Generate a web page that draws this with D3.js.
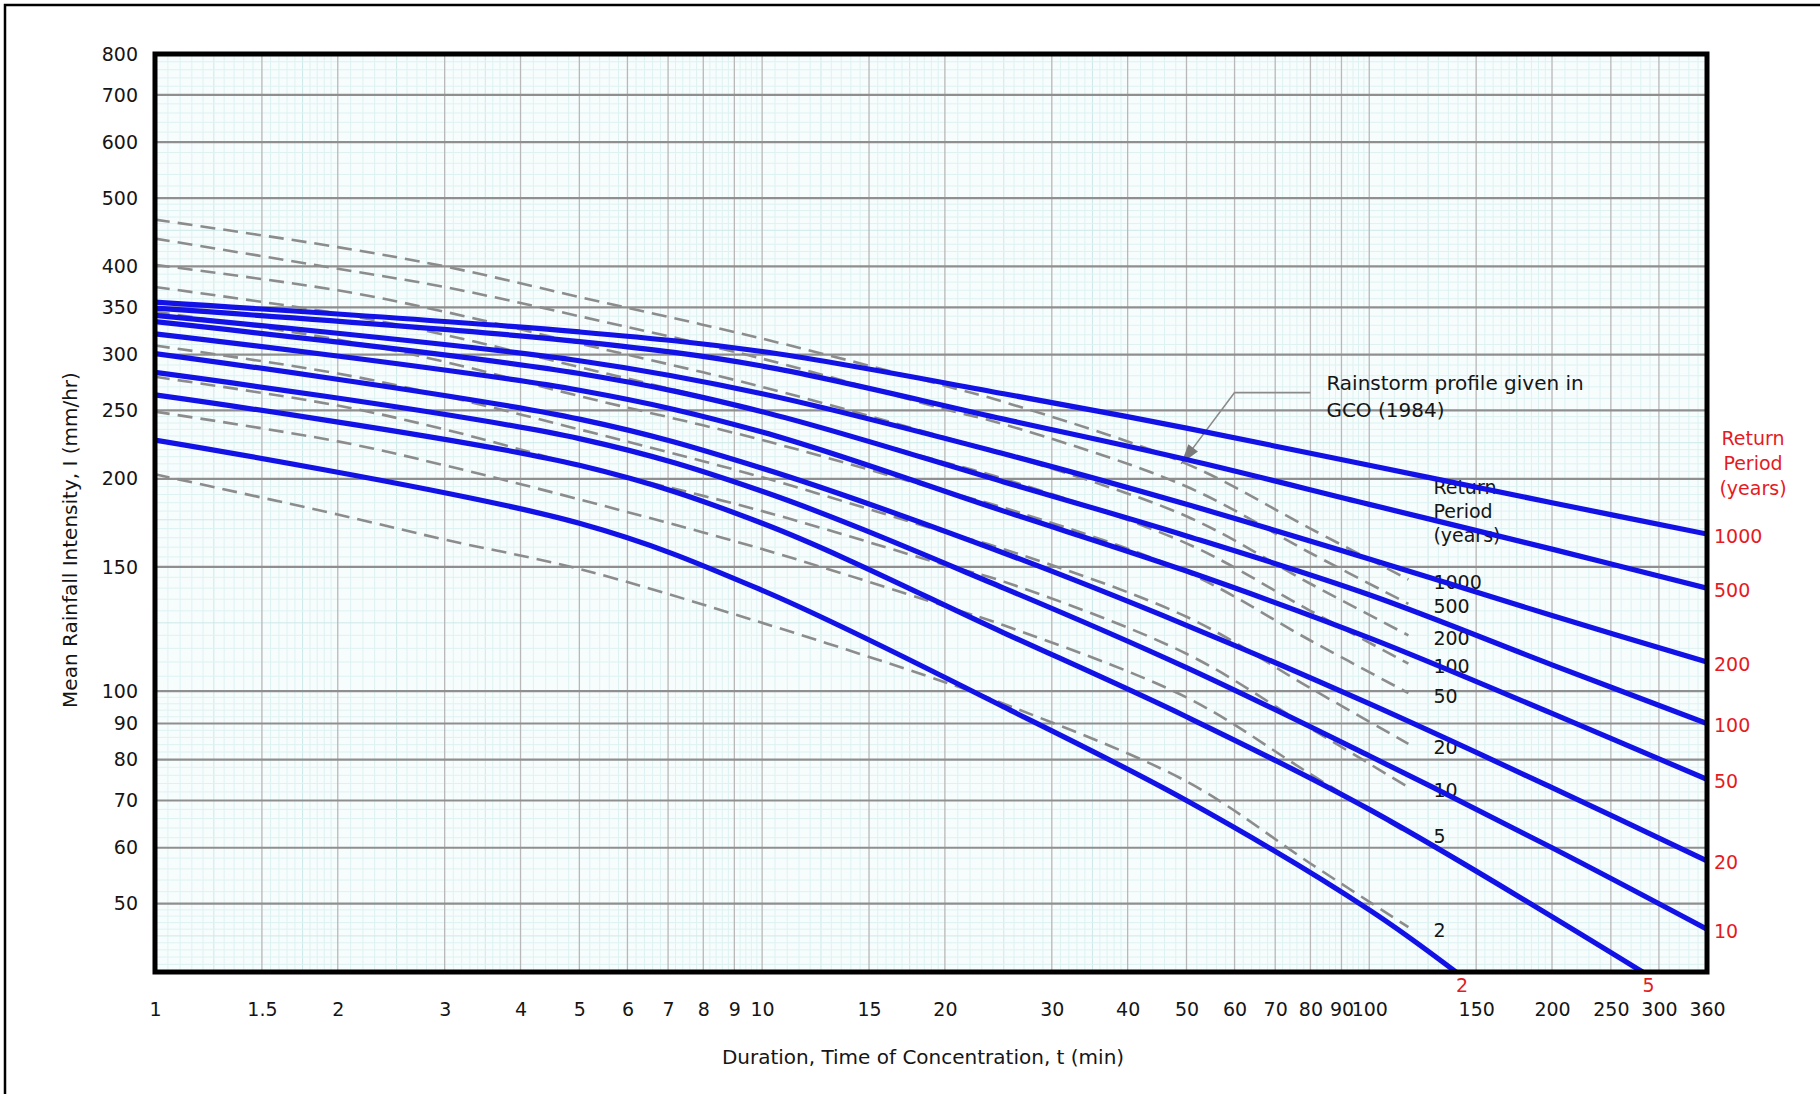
<!DOCTYPE html>
<html>
<head>
<meta charset="utf-8">
<script src="https://cdn.jsdelivr.net/npm/d3@7"></script>
<style>
  html, body { margin: 0; padding: 0; background: #ffffff; }
  svg { display: block; font-family: "DejaVu Sans", sans-serif; }
</style>
</head>
<body>
<svg id="chart" width="1820" height="1094"></svg>
<script>
// ---- Axis ticks ----
const xTicks = [1, 1.5, 2, 3, 4, 5, 6, 7, 8, 9, 10, 15, 20, 30, 40, 50, 60, 70, 80, 90, 100, 150, 200, 250, 300, 360];
const yTicks = [50, 60, 70, 80, 90, 100, 150, 200, 250, 300, 350, 400, 500, 600, 700, 800];

// ---- Current IDF curves: duration (min) -> mean intensity (mm/hr) ----
const returnPeriods = [1000, 500, 200, 100, 50, 20, 10, 5, 2];
const idfDurations  = [1, 5, 10, 25, 50, 100, 200, 360];
const idf1000 = [356, 323, 303, 264, 236, 209, 185, 167];
const idf500  = [349, 313, 289, 243, 213, 184, 159, 140];
const idf200  = [341, 294, 264, 217, 184, 154, 128, 110];
const idf100  = [334, 282, 249, 198, 166, 137, 109, 90];
const idf50   = [321, 267, 233, 180, 148, 119, 93, 75];
const idf20   = [301, 243, 207, 157, 124, 96, 73, 57.5];
const idf10   = [283, 228, 192, 140, 108, 81, 60, 46];
const idfDurations5 = [1, 5, 10, 25, 50, 100, 282];
const idf5    = [263, 209, 173, 121, 92, 68, 40];
const idfDurations2 = [1, 5, 10, 25, 50, 100, 139];
const idf2    = [227, 173, 139, 95, 70, 49, 40];

// ---- Rainstorm profile given in GCO (1984) ----
const gcoDurations = [1, 2, 3, 5, 10, 20, 25, 50, 80, 116];
const gco1000 = [466, 426, 400, 362, 316, 271, 257, 210, 170, 144];
const gco500  = [438, 397, 374, 340, 296, 251, 239, 195, 157, 133];
const gco200  = [402, 370, 345, 311, 270, 229, 217, 177, 142, 120];
const gco100  = [374, 343, 320, 288, 249, 211, 200, 162, 130, 109.4];
const gco50   = [345, 315, 293, 262, 227, 192, 182, 147.5, 118, 99.4];
const gco20   = [309, 282, 262, 235, 201, 168, 159, 127.5, 101, 84.2];
const gco10   = [279, 254, 235, 209, 180, 151, 143, 113, 88.6, 73.1];
const gco5    = [249, 226, 209, 187, 159, 132, 124, 98, 76.3, 62.8];
const gco2    = [203, 178, 164, 149, 125, 103, 96, 74.5, 57, 46.3];

// Annotation anchor (duration, intensity) and its leader elbow
const noteTip   = [49, 210];
const noteElbow = [60, 265];
const noteEnd   = [80, 265];

// ---- Series tables ----
const zip = (ts, vs) => ts.map((t, i) => ({ t: t, v: vs[i] }));
const idfSeries = [
  { rp: 1000, pts: zip(idfDurations, idf1000) },
  { rp: 500,  pts: zip(idfDurations, idf500) },
  { rp: 200,  pts: zip(idfDurations, idf200) },
  { rp: 100,  pts: zip(idfDurations, idf100) },
  { rp: 50,   pts: zip(idfDurations, idf50) },
  { rp: 20,   pts: zip(idfDurations, idf20) },
  { rp: 10,   pts: zip(idfDurations, idf10) },
  { rp: 5,    pts: zip(idfDurations5, idf5) },
  { rp: 2,    pts: zip(idfDurations2, idf2) }
];
const gcoSeries = [
  { rp: 1000, pts: zip(gcoDurations, gco1000) },
  { rp: 500,  pts: zip(gcoDurations, gco500) },
  { rp: 200,  pts: zip(gcoDurations, gco200) },
  { rp: 100,  pts: zip(gcoDurations, gco100) },
  { rp: 50,   pts: zip(gcoDurations, gco50) },
  { rp: 20,   pts: zip(gcoDurations, gco20) },
  { rp: 10,   pts: zip(gcoDurations, gco10) },
  { rp: 5,    pts: zip(gcoDurations, gco5) },
  { rp: 2,    pts: zip(gcoDurations, gco2) }
];

// ---- Layout ----
const svg = d3.select('#chart');
const x = d3.scaleLog().domain([1, 360]).range([155, 1707]);
const y = d3.scaleLog().domain([40, 800]).range([972, 54]);
const [x0, x1] = x.range();
const [y0, y1] = y.range();

const BLUE = '#1212e6';
const RED = '#e41b1f';
const INK = '#151515';

// Outer page border
svg.append('rect')
  .attr('x', 5).attr('y', 5).attr('width', 1840).attr('height', 1120)
  .attr('fill', 'none').attr('stroke', '#000').attr('stroke-width', 2.5);

// Plot background
svg.append('rect')
  .attr('x', x0).attr('y', y1).attr('width', x1 - x0).attr('height', y0 - y1)
  .attr('fill', '#f7fcfc');

svg.append('defs').append('clipPath').attr('id', 'plotClip')
  .append('rect').attr('x', x0).attr('y', y1).attr('width', x1 - x0).attr('height', y0 - y1);

// Graph-paper minor grid
const minor = svg.append('g').attr('class', 'minor-grid');
function subdivide(majors, scale) {
  const out = [];
  for (let i = 0; i < majors.length - 1; i++) {
    const a = majors[i], b = majors[i + 1];
    const span = Math.abs(scale(b) - scale(a));
    const n = span > 60 ? 10 : 5;
    for (let k = 1; k < n; k++) out.push({ v: a + (b - a) * k / n, half: (n === 10 && k === 5) });
  }
  return out;
}
const yMajors = [40].concat(yTicks);
const xMinor = subdivide(xTicks, x);
const yMinor = subdivide(yMajors, y);
minor.selectAll('line.vx').data(xMinor).join('line')
  .attr('class', 'vx')
  .attr('x1', d => x(d.v)).attr('x2', d => x(d.v))
  .attr('y1', y1).attr('y2', y0)
  .attr('stroke', d => d.half ? '#cde9e9' : '#def2f2').attr('stroke-width', 1);
minor.selectAll('line.hy').data(yMinor).join('line')
  .attr('class', 'hy')
  .attr('x1', x0).attr('x2', x1)
  .attr('y1', d => y(d.v)).attr('y2', d => y(d.v))
  .attr('stroke', d => d.half ? '#cde9e9' : '#def2f2').attr('stroke-width', 1);

// Major grid
const major = svg.append('g').attr('class', 'major-grid');
major.selectAll('line.gx').data(xTicks.slice(1, -1)).join('line')
  .attr('class', 'gx')
  .attr('x1', d => x(d)).attr('x2', d => x(d))
  .attr('y1', y1).attr('y2', y0)
  .attr('stroke', '#b8b8b8').attr('stroke-width', 1.3);
major.selectAll('line.gy').data(yTicks.slice(0, -1)).join('line')
  .attr('class', 'gy')
  .attr('x1', x0).attr('x2', x1)
  .attr('y1', d => y(d)).attr('y2', d => y(d))
  .attr('stroke', '#8f8f8f').attr('stroke-width', 2.2);

// Axes (labels only; the frame is drawn separately)
const xAxis = d3.axisBottom(x).tickValues(xTicks).tickFormat(d3.format('')).tickSize(0).tickPadding(0);
const gx = svg.append('g').attr('transform', `translate(0,${y0 + 37})`).call(xAxis);
gx.select('.domain').remove();
gx.selectAll('text').attr('font-size', 19).attr('fill', INK).attr('dy', '0.35em')
  .attr('font-family', '"DejaVu Sans", sans-serif');

const yAxis = d3.axisLeft(y).tickValues(yTicks).tickFormat(d3.format('')).tickSize(0).tickPadding(0);
const gy = svg.append('g').attr('transform', `translate(${x0 - 17},0)`).call(yAxis);
gy.select('.domain').remove();
gy.selectAll('text').attr('font-size', 19).attr('fill', INK)
  .attr('font-family', '"DejaVu Sans", sans-serif');

// Axis titles
svg.append('text')
  .attr('x', (x0 + x1) / 2 - 8).attr('y', 1057).attr('dy', '0.35em')
  .attr('text-anchor', 'middle').attr('font-size', 20).attr('fill', INK)
  .text('Duration, Time of Concentration, t (min)');
svg.append('text')
  .attr('transform', `translate(70,540) rotate(-90)`).attr('dy', '0.35em')
  .attr('text-anchor', 'middle').attr('font-size', 20).attr('fill', INK)
  .text('Mean Rainfall Intensity, I (mm/hr)');

// Labels inside the plot (drawn under the curves)
const lastOf = s => s.pts[s.pts.length - 1];
const inner = svg.append('g').attr('class', 'inner-labels').attr('font-size', 19).attr('fill', INK);
const labelX = x(lastOf(gcoSeries[0]).t) + 25;
inner.selectAll('text.gl').data(gcoSeries).join('text')
  .attr('class', 'gl')
  .attr('x', labelX).attr('y', d => y(lastOf(d).v) + 3).attr('dy', '0.35em')
  .text(d => d.rp);
const topLabelY = y(lastOf(gcoSeries[0]).v) + 3;
['Return', 'Period', '(years)'].forEach((s, i) => {
  inner.append('text').attr('x', labelX).attr('y', topLabelY - 95 + i * 24).attr('dy', '0.35em').text(s);
});

// Annotation
const ann = svg.append('g').attr('class', 'annotation');
ann.append('polyline')
  .attr('points', [noteEnd, noteElbow, noteTip].map(p => [x(p[0]), y(p[1])].join(',')).join(' '))
  .attr('fill', 'none').attr('stroke', '#8a8a8a').attr('stroke-width', 1.6);
{
  const ex = x(noteElbow[0]), ey = y(noteElbow[1]);
  const tx = x(noteTip[0]), ty = y(noteTip[1]);
  const ang = Math.atan2(ty - ey, tx - ex) * 180 / Math.PI;
  ann.append('path')
    .attr('d', 'M0,0 L-20,-6 L-20,6 Z')
    .attr('transform', `translate(${tx},${ty}) rotate(${ang})`)
    .attr('fill', '#7a7a7a');
}
ann.append('text').attr('x', x(noteEnd[0]) + 16).attr('y', y(noteEnd[1]) - 10).attr('dy', '0.35em')
  .attr('font-size', 20).attr('fill', INK).text('Rainstorm profile given in');
ann.append('text').attr('x', x(noteEnd[0]) + 16).attr('y', y(noteEnd[1]) + 17).attr('dy', '0.35em')
  .attr('font-size', 20).attr('fill', INK).text('GCO (1984)');

// Curves
const line = d3.line()
  .x(d => x(d.t)).y(d => y(d.v))
  .curve(d3.curveCatmullRom.alpha(0.5));

const curves = svg.append('g').attr('clip-path', 'url(#plotClip)');
curves.selectAll('path.gco').data(gcoSeries).join('path')
  .attr('class', 'gco')
  .attr('d', d => line(d.pts))
  .attr('fill', 'none').attr('stroke', '#8c8c8c').attr('stroke-width', 2.6)
  .attr('stroke-dasharray', '15,8');
curves.selectAll('path.idf').data(idfSeries).join('path')
  .attr('class', 'idf')
  .attr('d', d => line(d.pts))
  .attr('fill', 'none').attr('stroke', BLUE).attr('stroke-width', 5.2)
  .attr('stroke-linecap', 'round');

// Plot frame
svg.append('rect')
  .attr('x', x0).attr('y', y1).attr('width', x1 - x0).attr('height', y0 - y1)
  .attr('fill', 'none').attr('stroke', '#000').attr('stroke-width', 5);

// Return period labels at curve ends (red)
const red = svg.append('g').attr('class', 'rp-labels').attr('fill', RED).attr('font-size', 19);
idfSeries.forEach(s => {
  const p = lastOf(s);
  if (p.t >= 360) {
    red.append('text').attr('x', x(p.t) + 7).attr('y', y(p.v) + 2).attr('dy', '0.35em').text(s.rp);
  } else {
    red.append('text').attr('x', x(p.t) + 6).attr('y', y0 + 13).attr('dy', '0.35em')
      .attr('text-anchor', 'middle').text(s.rp);
  }
});
const redTop = y(lastOf(idfSeries[0]).v) + 2;
['Return', 'Period', '(years)'].forEach((s, i) => {
  red.append('text').attr('x', 1753).attr('y', redTop - 98 + i * 25).attr('dy', '0.35em')
    .attr('text-anchor', 'middle').text(s);
});
</script>
</body>
</html>
